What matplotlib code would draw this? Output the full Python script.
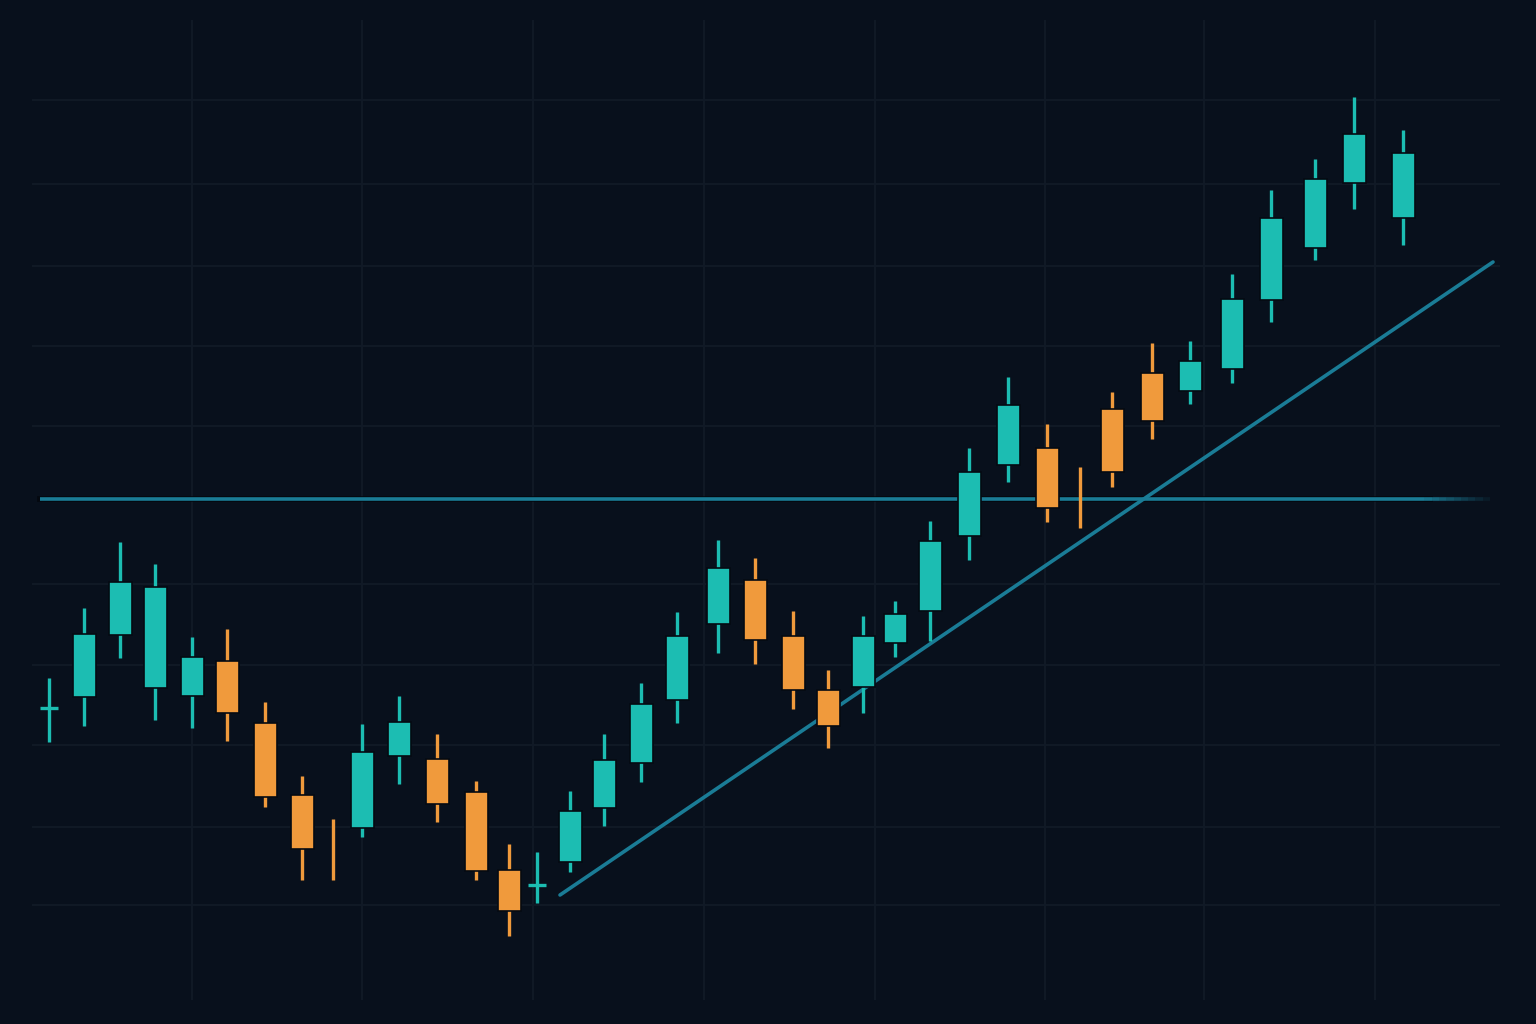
import numpy as np
import matplotlib.pyplot as plt
from matplotlib.collections import LineCollection

# posicoes no tempo (unidades do eixo x) e precos OHLC de cada vela
tempo = [49, 84, 120, 155, 192, 227, 265, 302, 333, 362, 399, 437, 476, 509,
         537, 570, 604, 641, 677, 718, 755, 793, 828, 863, 895, 930, 969,
         1008, 1047, 1080, 1112, 1152, 1190, 1232, 1271, 1315, 1354, 1403]
abertura = [31.6, 32.7, 38.9, 33.6, 32.8, 36.3, 30.1, 22.9, 14.5, 19.6, 26.8,
            26.5, 23.2, 15.4, 13.9, 16.2, 21.6, 26.1, 32.4, 40.0, 44.4, 38.8,
            33.4, 33.7, 38.1, 41.3, 48.8, 55.9, 57.6, 49.7, 61.5, 65.1, 63.3,
            65.5, 72.4, 77.6, 84.1, 80.6]
maximo = [34.6, 41.6, 48.2, 46.0, 38.7, 39.5, 32.2, 24.8, 20.5, 30.0, 32.8,
          29.0, 24.3, 18.0, 17.2, 23.3, 29.0, 34.1, 41.2, 48.4, 46.6, 41.3,
          35.4, 40.8, 42.3, 50.3, 57.6, 64.7, 60.0, 55.7, 63.2, 68.1, 68.3,
          75.0, 83.4, 86.5, 92.7, 89.4]
minimo = [28.2, 29.8, 36.6, 30.4, 29.6, 28.3, 21.7, 14.4, 14.4, 18.7, 24.0,
          20.2, 14.4, 8.8, 12.1, 15.2, 19.8, 24.2, 30.1, 37.1, 36.0, 31.5,
          27.6, 31.1, 36.7, 38.3, 46.4, 54.2, 50.2, 49.6, 53.7, 58.5, 62.0,
          64.1, 70.2, 76.4, 81.5, 77.9]
fecho = [31.6, 39.0, 44.2, 43.7, 36.7, 31.1, 22.7, 17.5, 14.4, 27.2, 30.2,
         22.0, 15.3, 11.3, 13.9, 21.3, 26.4, 32.0, 38.8, 45.6, 38.4, 33.4,
         29.8, 38.8, 41.0, 48.3, 55.2, 61.9, 51.6, 49.6, 55.2, 60.3, 66.3,
         72.5, 80.6, 84.5, 89.0, 87.1]

# resistencia horizontal e linha de tendencia
resistencia = 52.5
resist_x = [40, 1490]
tendencia_x = [560, 1493]
tendencia_y = [12.9, 76.2]

# grelha
grelha_x = [192, 362, 533, 704, 875, 1045, 1204, 1375]
grelha_y = [92.4, 84.0, 75.8, 67.8, 59.8, 44.0, 35.9, 27.9, 19.7, 11.9]

fundo = '#08101c'
verde = '#1cbdb2'
laranja = '#f09a3c'
azul = '#1a7c96'

fig = plt.figure(figsize=(15.36, 10.24), dpi=100, facecolor=fundo)
ax = fig.add_axes([0, 0, 1, 1])
ax.set_facecolor(fundo)
ax.set_xlim(0, 1536)
ax.set_ylim(0, 102.4)
ax.axis('off')

# grelha discreta
ax.hlines(grelha_y, 32, 1500, color='#111a27', lw=1.3, zorder=0)
ax.vlines(grelha_x, 2.4, 100.4, color='#111a27', lw=1.3, zorder=0)

# resistencia com desvanecimento no fim (contorno escuro por baixo)
ax.plot([resist_x[0], resist_x[1] - 60], [resistencia] * 2, color='#03070d',
        lw=4.2, alpha=0.8, zorder=1)
xs = np.linspace(resist_x[0], resist_x[1], 200)
segs = [[(xs[i], resistencia), (xs[i + 1], resistencia)] for i in range(len(xs) - 1)]
alfas = np.clip((resist_x[1] - xs[:-1]) / 70.0, 0, 1)
cores = [(0x1a / 255, 0x7c / 255, 0x96 / 255, a) for a in alfas]
ax.add_collection(LineCollection(segs, colors=cores, linewidths=2.6, zorder=1))

# linha de tendencia
ax.plot(tendencia_x, tendencia_y, color=azul, lw=2.6, solid_capstyle='round', zorder=1)

# velas
for t, o, h, l, c in zip(tempo, abertura, maximo, minimo, fecho):
    cor = verde if c >= o else laranja
    ax.vlines(t, l, h, color=cor, lw=2.4, zorder=3)
    corpo = abs(c - o)
    if corpo >= 0.3:
        ax.bar(t, corpo, bottom=min(o, c), width=23, color=cor,
               edgecolor='#050a12', linewidth=1.2, zorder=4)
    elif o == c:
        ax.hlines(o, t - 9, t + 9, color=cor, lw=2.4, zorder=4)

fig.savefig('out.png', dpi=100, facecolor=fundo)
